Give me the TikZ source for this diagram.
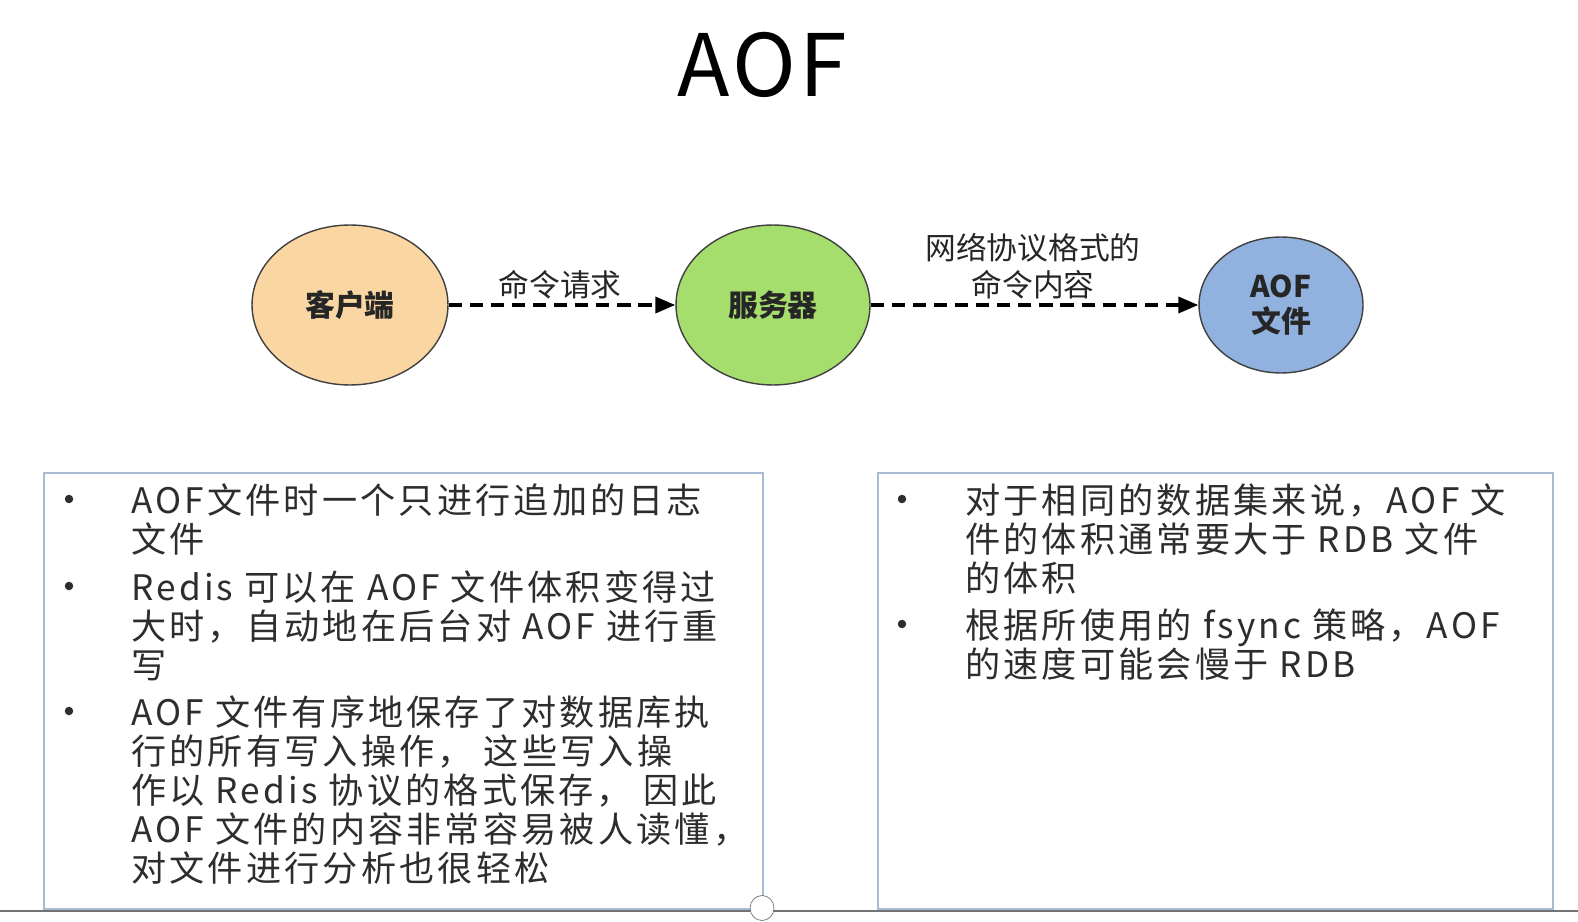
\documentclass[tikz,border=0pt]{standalone}
\usepackage{fontspec}
\setmainfont{Noto Sans CJK SC}
\newfontfamily\bodyfont[LetterSpace=9]{Noto Sans CJK SC}
\newfontfamily\titlefont[LetterSpace=4]{Noto Sans CJK SC}
\usetikzlibrary{shapes.geometric,arrows.meta}
\definecolor{clientfill}{RGB}{249,214,162}
\definecolor{serverfill}{RGB}{166,222,110}
\definecolor{filefill}{RGB}{145,178,222}
\definecolor{panelline}{RGB}{168,186,212}
\definecolor{bodytext}{RGB}{45,45,45}
\begin{document}
\begin{tikzpicture}[x=0.02cm,y=-0.02cm,
    blob/.style={ellipse,draw=black!75,thick,inner sep=0pt,align=center,text=black!85,font=\fontsize{17}{20}\selectfont\bfseries},
    flow/.style={line width=2pt,dash pattern=on 7.5pt off 4.5pt,-{Triangle[length=4mm,width=3.2mm]}},
    lbl/.style={inner sep=0pt,align=center,text=black!85,font=\fontsize{17.5}{21}\selectfont},
    panel/.style={draw=panelline,line width=1.2pt,anchor=north west,inner sep=0pt},
    item/.style={anchor=north west,inner sep=0pt,align=left,text=bodytext,font=\fontsize{20}{22.2}\bodyfont},
    dot/.style={circle,fill=bodytext,inner sep=0pt,minimum size=0.17cm}]
    \useasboundingbox (0,0) rectangle (1578,922);
    \node[inner sep=0pt,font=\fontsize{49}{52}\titlefont] (title) at (762,65) {AOF};

    \node[blob,fill=clientfill,minimum width=3.92cm,minimum height=3.2cm] (client) at (350,305) {客户端};
    \node[blob,fill=serverfill,minimum width=3.88cm,minimum height=3.2cm] (server) at (773,305) {服务器};
    \node[blob,fill=filefill,minimum width=3.28cm,minimum height=2.72cm] (aof) at (1281,305) {AOF\\文件};
    \draw[flow] (client) -- (server);
    \draw[flow] (server) -- (aof);
    \node[lbl] (req) at (560,285) {命令请求};
    \node[lbl] (proto) at (1033,266) {网络协议格式的\\命令内容};

    \node[panel,minimum width=14.38cm,minimum height=8.72cm] (leftbox) at (43,472) {};
    \node[panel,minimum width=13.5cm,minimum height=8.72cm] (rightbox) at (877,472) {};

    \node[dot] (la) at (69,499) {};
    \node[dot] (lb) at (69,586) {};
    \node[dot] (lc) at (69,711) {};
    \node[item] (ta) at (131,483) {AOF文件时一个只进行追加的日志\\文件};
    \node[item] (tb) at (131,570) {Redis 可以在 AOF 文件体积变得过\\大时，自动地在后台对 AOF 进行重\\写};
    \node[item] (tc) at (131,695) {AOF 文件有序地保存了对数据库执\\行的所有写入操作， 这些写入操\\作以 Redis 协议的格式保存， 因此\\AOF 文件的内容非常容易被人读懂，\\对文件进行分析也很轻松};

    \node[dot] (ra) at (902,499) {};
    \node[dot] (rb) at (902,624) {};
    \node[item] (td) at (965,483) {对于相同的数据集来说，AOF 文\\件的体积通常要大于 RDB 文件\\的体积};
    \node[item] (te) at (965,608) {根据所使用的 fsync 策略，AOF\\的速度可能会慢于 RDB};

    \draw[black!55,line width=1pt] (0,911) -- (1578,911);
    \node[ellipse,draw=black!55,fill=white,inner sep=0pt,minimum width=0.48cm,minimum height=0.5cm] (knob) at (762,908) {};
\end{tikzpicture}
\end{document}
